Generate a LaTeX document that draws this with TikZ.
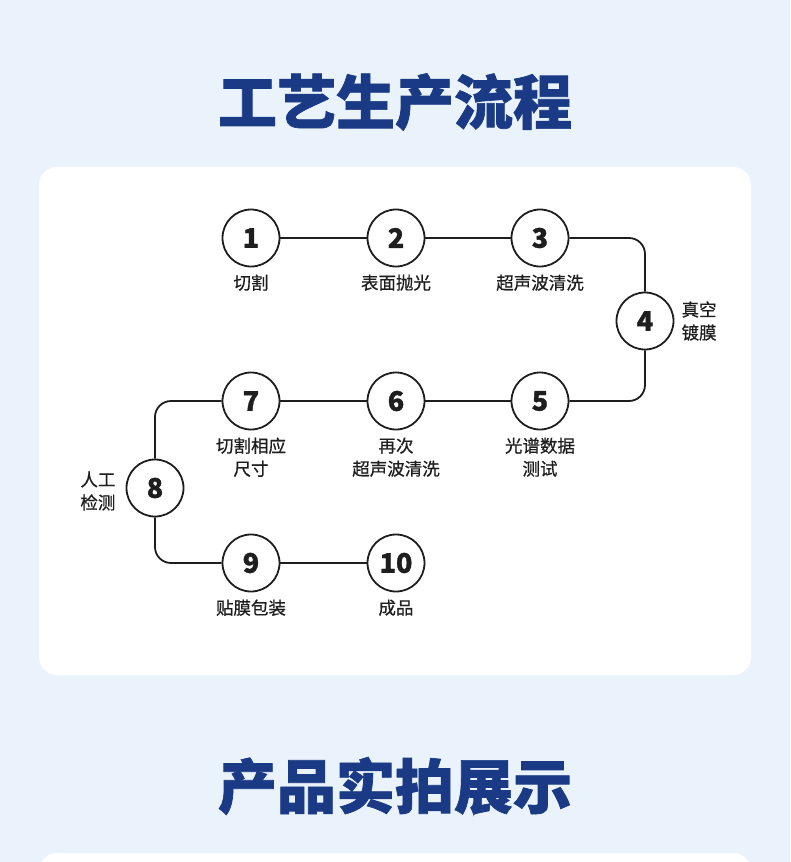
\documentclass[tikz,border=0pt]{standalone}
\usepackage{fontspec}
\newfontfamily\cjkmed[FakeBold=0.6]{Noto Sans CJK SC}
\newfontfamily\cjkheavy[BoldFeatures={FakeBold=1.2}]{Noto Sans CJK SC}
\usetikzlibrary{positioning}
\definecolor{pagebg}{HTML}{EAF3FC}
\definecolor{titleblue}{HTML}{1A3A85}
\definecolor{inkgray}{HTML}{1E1E1E}

\begin{document}
\begin{tikzpicture}[
  x=1pt, y=-1pt,
  stepnode/.style={circle, draw=inkgray, line width=1.8pt, fill=white, minimum size=57pt, inner sep=0pt, text=inkgray, font=\cjkheavy\bfseries\fontsize{27}{27}\selectfont},
  steptext/.style={align=center, inner sep=0pt, text=inkgray, font=\cjkmed\fontsize{17.5}{23}\selectfont},
  flowline/.style={draw=inkgray, line width=1.8pt, rounded corners=16pt},
  heading/.style={text=titleblue, font=\cjkheavy\bfseries\fontsize{59}{59}\selectfont}
]
  \useasboundingbox (0,0) rectangle (790,862);
  \fill[pagebg] (0,0) rectangle (790,862);
  \fill[white, rounded corners=18pt] (39,167) rectangle (751,675);
  \fill[white, rounded corners=18pt] (39,853) rectangle (751,900);

  \node[heading] (title1) at (395,102) {工艺生产流程};
  \node[heading] (title2) at (395,786) {产品实拍展示};

  \node[stepnode] (n1) at (251,238) {1};
  \node[stepnode] (n2) at (396,238) {2};
  \node[stepnode] (n3) at (540,238) {3};
  \node[stepnode] (n4) at (645,321) {4};
  \node[stepnode] (n5) at (540,401) {5};
  \node[stepnode] (n6) at (396,401) {6};
  \node[stepnode] (n7) at (251,401) {7};
  \node[stepnode] (n8) at (155,488) {8};
  \node[stepnode] (n9) at (251,563) {9};
  \node[stepnode] (n10) at (396,563) {10};

  \node[steptext, below=7pt of n1] (t1) {切割};
  \node[steptext, below=7pt of n2] (t2) {表面抛光};
  \node[steptext, below=7pt of n3] (t3) {超声波清洗};
  \node[steptext, right=7pt of n4] (t4) {真空\\镀膜};
  \node[steptext, below=7pt of n5] (t5) {光谱数据\\测试};
  \node[steptext, below=7pt of n6] (t6) {再次\\超声波清洗};
  \node[steptext, below=7pt of n7] (t7) {切割相应\\尺寸};
  \node[steptext, left=10pt of n8, yshift=-3pt] (t8) {人工\\检测};
  \node[steptext, below=7pt of n9] (t9) {贴膜包装};
  \node[steptext, below=7pt of n10] (t10) {成品};

  \draw[flowline] (n1) -- (n2);
  \draw[flowline] (n2) -- (n3);
  \draw[flowline] (n3.east) -- (n3.east -| n4.north) -- (n4.north);
  \draw[flowline] (n4.south) -- (n4.south |- n5.east) -- (n5.east);
  \draw[flowline] (n5) -- (n6);
  \draw[flowline] (n6) -- (n7);
  \draw[flowline] (n7.west) -- (n7.west -| n8.north) -- (n8.north);
  \draw[flowline] (n8.south) -- (n8.south |- n9.west) -- (n9.west);
  \draw[flowline] (n9) -- (n10);
\end{tikzpicture}
\end{document}
